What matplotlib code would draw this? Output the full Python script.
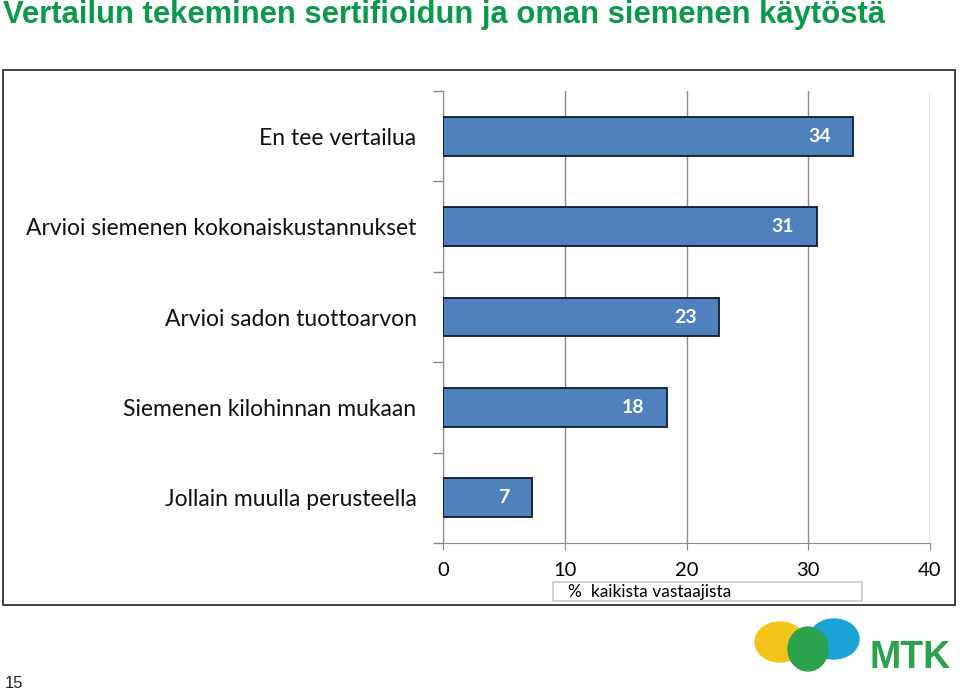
import numpy as np
import matplotlib.pyplot as plt
from matplotlib.patches import Rectangle, Ellipse

# data
categories = ["En tee vertailua",
              "Arvioi siemenen kokonaiskustannukset",
              "Arvioi sadon tuottoarvon",
              "Siemenen kilohinnan mukaan",
              "Jollain muulla perusteella"]
values = [33.7, 30.7, 22.7, 18.4, 7.3]
xticks = [0, 10, 20, 30, 40]
title = "Vertailun tekeminen sertifioidun ja oman siemenen käytöstä"
xlabel = "%  kaikista vastaajista"

W, H = 960, 692
fig = plt.figure(figsize=(W / 100, H / 100), dpi=100)

def fx(px):
    return px / W

def fy(py):
    return 1 - py / H

# outer frame of chart
fig.patches.append(Rectangle((fx(3), fy(605)), fx(955) - fx(3), fy(70) - fy(605),
                             transform=fig.transFigure, fill=False,
                             edgecolor="#333333", linewidth=1.3))

ax = fig.add_axes([fx(443), fy(543), fx(930) - fx(443), fy(91) - fy(543)])
y = np.arange(len(categories))
ax.barh(y, values, height=0.43, color="#4F81BD", edgecolor="#0d1a33",
        linewidth=1.3, zorder=3)
for yi, v in zip(y, values):
    ax.text(v - 1.85, yi, f"{round(v)}", ha="right", va="center",
            color="white", fontsize=14, fontweight="bold", family="Lato", zorder=4)

ax.set_xlim(0, 40)
ax.set_ylim(len(categories) - 0.5, -0.5)
ax.set_xticks(xticks)
ax.set_xticklabels([str(t) for t in xticks], fontsize=14.5, family="Lato")
ax.set_yticks(y)
ax.set_yticklabels(categories, fontsize=16.5, family="Lato", color="#111111")
ax.set_yticks(np.arange(-0.5, len(categories)), minor=True)
ax.tick_params(axis="y", which="major", length=0, pad=19)
ax.tick_params(axis="y", which="minor", length=7, color="#888888", width=1)
ax.tick_params(axis="x", length=5, color="#888888", direction="out", pad=9)
ax.xaxis.grid(True, color="#8c8c8c", linewidth=1, zorder=0)
for s in ["top", "right"]:
    ax.spines[s].set_visible(False)
for s in ["left", "bottom"]:
    ax.spines[s].set_color("#8c8c8c")

# x axis label box
fig.patches.append(Rectangle((fx(553), fy(601)), fx(862) - fx(553), fy(582) - fy(601),
                             transform=fig.transFigure, fill=True, facecolor="white",
                             edgecolor="#c8c8c8", linewidth=1.2))
fig.text(fx(568), fy(592), xlabel, ha="left", va="center", fontsize=12.5,
         family="Lato")

fig.text(fx(3), fy(15), title, ha="left", va="center", fontsize=22.3,
         fontweight="bold", color="#0A9A4A", family="Liberation Sans")
fig.text(fx(5), fy(683), "15", ha="left", va="center", fontsize=12,
         family="Liberation Sans", color="#222222")

# MTK logo (rough)
lax = fig.add_axes([fx(750), fy(675), fx(870) - fx(750), fy(615) - fy(675)])
lax.set_xlim(0, 120)
lax.set_ylim(0, 60)
lax.axis("off")
lax.add_patch(Ellipse((30, 33), 50, 40, color="#F2C318"))
lax.add_patch(Ellipse((84, 36), 50, 40, color="#1BA3D8"))
lax.add_patch(Ellipse((58, 26), 40, 44, color="#2BA24C"))
fig.text(fx(869), fy(658), "MTK", ha="left", va="center", fontsize=27,
         fontweight="bold", color="#2BA24C", family="Liberation Sans")

fig.savefig("out.png", dpi=100)
